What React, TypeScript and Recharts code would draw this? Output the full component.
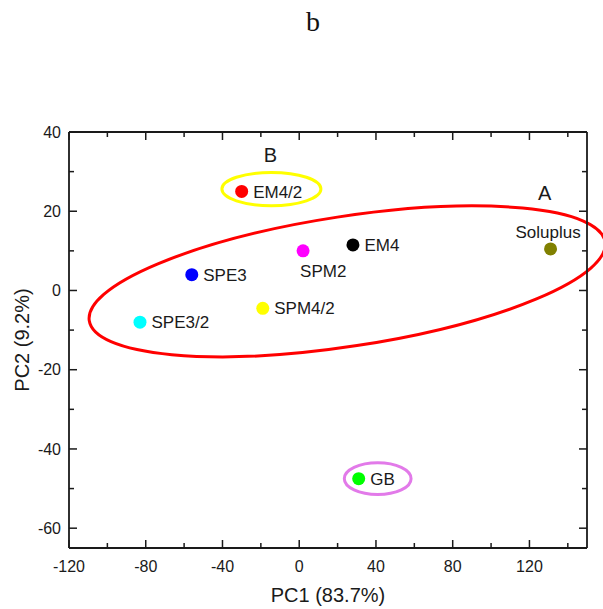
import { ScatterChart, Scatter, XAxis, YAxis, ReferenceArea, ReferenceDot } from 'recharts';

// sample scores
const samples = ['EM4/2', 'SPE3', 'SPE3/2', 'SPM4/2', 'SPM2', 'EM4', 'Soluplus', 'GB'];
const pc1 = [-30, -56, -83, -19, 2, 28, 131, 31];
const pc2 = [25, 4, -8, -4.5, 10, 11.5, 10.5, -47.5];

const xTicks = [-120, -100, -80, -60, -40, -20, 0, 20, 40, 60, 80, 100, 120, 140];
const yTicks = [-60, -50, -40, -30, -20, -10, 0, 10, 20, 30, 40];

// group letters
const groupNames = ['A', 'B'];
const groupX = [128, -15];
const groupY = [24.7, 34.3];

// grouping rings, in data units
const ringCenterX = [25, -14.5, 40.9];
const ringCenterY = [2.3, 25.6, -47.5];
const ringHalfX = [136, 25.8, 17.4];
const ringHalfY = [16.4, 4.2, 4.0];

const data = samples.map((name, i) => ({ name, x: pc1[i], y: pc2[i] }));

const dotColor: Record<string, string> = {
    'EM4/2': '#ff0000',
    'SPE3': '#0000ff',
    'SPE3/2': '#00ffff',
    'SPM4/2': '#ffff00',
    'SPM2': '#ff00ff',
    'EM4': '#000000',
    'Soluplus': '#808000',
    'GB': '#00ff00',
};
const labelSide: Record<string, string> = { SPM2: 'below', Soluplus: 'above' };
const ringColor = ['#ff0000', '#ffff00', '#e27ae9'];
const ringTilt = [-8.7, 0, 0];

const FONT = '"Liberation Sans", Arial, sans-serif';
const INK = '#1a1a1a';

const Dot = (p: any) => {
    const name = p.payload.name;
    const side = labelSide[name] || 'right';
    let label;
    if (side === 'right') {
        label = <text x={p.cx + 11.5} y={p.cy} dy="0.36em" fontSize={17} fill={INK} fontFamily={FONT}>{name}</text>;
    } else if (side === 'below') {
        label = <text x={p.cx - 3} y={p.cy + 26} fontSize={17} fill={INK} fontFamily={FONT}>{name}</text>;
    } else {
        label = <text x={p.cx - 2.5} y={p.cy - 11} textAnchor="middle" fontSize={17} fill={INK} fontFamily={FONT}>{name}</text>;
    }
    return (
        <g>
            <circle cx={p.cx} cy={p.cy} r={6.5} fill={dotColor[name]} />
            {label}
        </g>
    );
};

const NoDot = () => <g />;

const ring = (i: number) => (p: any) => {
    const cx = p.x + p.width / 2;
    const cy = p.y + p.height / 2;
    return (
        <ellipse
            cx={cx}
            cy={cy}
            rx={Math.abs(p.width) / 2}
            ry={Math.abs(p.height) / 2}
            fill="none"
            stroke={ringColor[i]}
            strokeWidth={3}
            transform={`rotate(${ringTilt[i]} ${cx} ${cy})`}
        />
    );
};

const BottomTick = (p: any) => {
    const v = p.payload.value;
    const major = v % 40 === 0;
    return (
        <g>
            <line x1={p.x} x2={p.x} y1={p.y} y2={p.y - (major ? 8 : 5)} stroke={INK} strokeWidth={1.5} />
            {major && (
                <text x={p.x} y={p.y + 24} textAnchor="middle" fontSize={16} fill={INK} fontFamily={FONT}>{v}</text>
            )}
        </g>
    );
};

const TopTick = (p: any) => {
    const major = p.payload.value % 40 === 0;
    return <line x1={p.x} x2={p.x} y1={p.y} y2={p.y + (major ? 8 : 5)} stroke={INK} strokeWidth={1.5} />;
};

const LeftTick = (p: any) => {
    const v = p.payload.value;
    const major = v % 20 === 0;
    return (
        <g>
            <line x1={p.x} x2={p.x + (major ? 8 : 5)} y1={p.y} y2={p.y} stroke={INK} strokeWidth={1.5} />
            {major && (
                <text x={p.x - 8} y={p.y} dy="0.36em" textAnchor="end" fontSize={16} fill={INK} fontFamily={FONT}>{v}</text>
            )}
        </g>
    );
};

const RightTick = (p: any) => {
    const major = p.payload.value % 20 === 0;
    return <line x1={p.x} x2={p.x - (major ? 8 : 5)} y1={p.y} y2={p.y} stroke={INK} strokeWidth={1.5} />;
};

const XTitle = (p: any) => {
    const vb = p.viewBox;
    return (
        <text x={vb.x + vb.width / 2} y={vb.y + 54} textAnchor="middle" fontSize={20} fill={INK} fontFamily={FONT}>
            PC1 (83.7%)
        </text>
    );
};

const YTitle = (p: any) => {
    const vb = p.viewBox;
    const x = 22;
    const y = vb.y + vb.height / 2;
    return (
        <text x={x} y={y} dy="0.36em" textAnchor="middle" fontSize={20} fill={INK} fontFamily={FONT} transform={`rotate(-90 ${x} ${y})`}>
            PC2 (9.2%)
        </text>
    );
};

const axisLine = { stroke: INK, strokeWidth: 1.8 };

export default function App() {
    return (
        <div style={{ position: 'absolute', left: 0, top: 0, width: 603, height: 609, background: '#fff' }}>
            <div style={{ position: 'absolute', left: 313, top: 6, transform: 'translateX(-50%)', fontFamily: '"Liberation Serif", "Times New Roman", serif', fontSize: 28, color: '#111' }}>
                b
            </div>
            <ScatterChart width={603} height={609} margin={{ top: 131, right: 15, bottom: 0, left: 9 }}>
                <XAxis
                    dataKey="x"
                    type="number"
                    domain={[-120, 150]}
                    ticks={xTicks}
                    interval={0}
                    tickSize={0}
                    tickMargin={0}
                    tick={<BottomTick />}
                    axisLine={axisLine}
                    tickLine={false}
                    height={61}
                    label={{ content: <XTitle /> }}
                />
                <XAxis
                    xAxisId="top"
                    dataKey="x"
                    orientation="top"
                    type="number"
                    domain={[-120, 150]}
                    ticks={xTicks}
                    interval={0}
                    tickSize={0}
                    tickMargin={0}
                    tick={<TopTick />}
                    axisLine={axisLine}
                    tickLine={false}
                    height={1}
                />
                <YAxis
                    dataKey="y"
                    type="number"
                    domain={[-65, 40]}
                    ticks={yTicks}
                    interval={0}
                    tickSize={0}
                    tickMargin={0}
                    tick={<LeftTick />}
                    axisLine={axisLine}
                    tickLine={false}
                    width={60}
                    label={{ content: <YTitle /> }}
                />
                <YAxis
                    yAxisId="right"
                    dataKey="y"
                    orientation="right"
                    type="number"
                    domain={[-65, 40]}
                    ticks={yTicks}
                    interval={0}
                    tickSize={0}
                    tickMargin={0}
                    tick={<RightTick />}
                    axisLine={axisLine}
                    tickLine={false}
                    width={1}
                />
                {ringCenterX.map((cx, i) => (
                    <ReferenceArea
                        key={`ring-${i}`}
                        x1={cx - ringHalfX[i]}
                        x2={cx + ringHalfX[i]}
                        y1={ringCenterY[i] - ringHalfY[i]}
                        y2={ringCenterY[i] + ringHalfY[i]}
                        ifOverflow="visible"
                        shape={ring(i)}
                    />
                ))}
                {groupNames.map((g, i) => (
                    <ReferenceDot
                        key={g}
                        x={groupX[i]}
                        y={groupY[i]}
                        r={0}
                        ifOverflow="visible"
                        shape={(p: any) => (
                            <text x={p.cx} y={p.cy} dy="0.36em" textAnchor="middle" fontSize={20} fill={INK} fontFamily={FONT}>{g}</text>
                        )}
                    />
                ))}
                {/* invisible copy so the top/right frame axes get drawn */}
                <Scatter data={data} xAxisId="top" yAxisId="right" shape={<NoDot />} isAnimationActive={false} />
                <Scatter data={data} shape={<Dot />} isAnimationActive={false} />
            </ScatterChart>
        </div>
    );
}
